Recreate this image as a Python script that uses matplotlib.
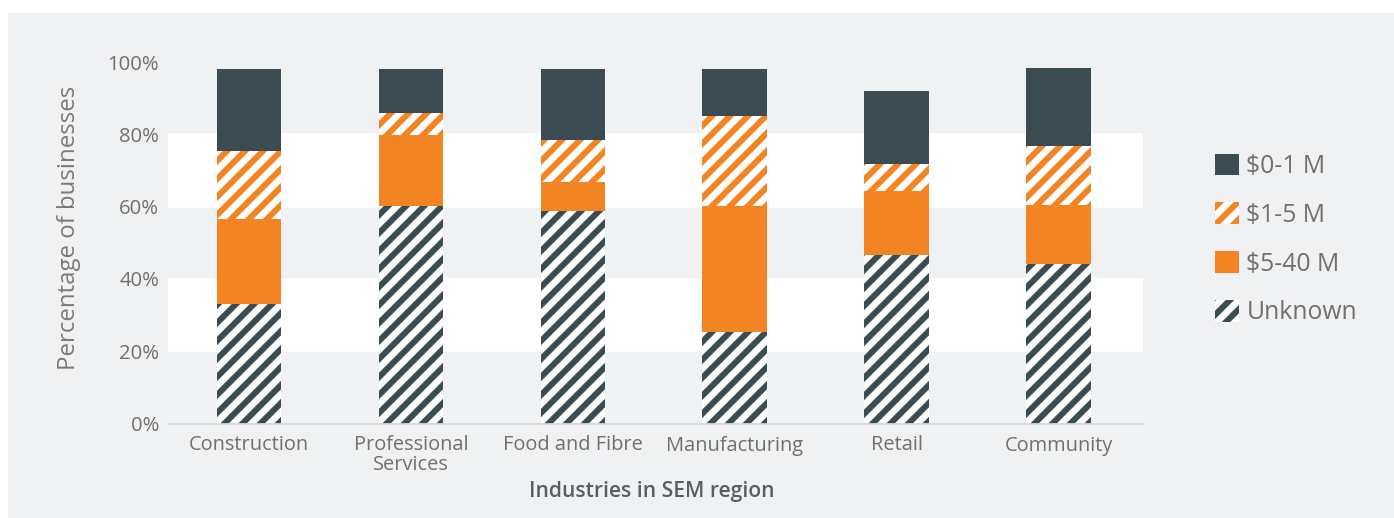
import matplotlib.pyplot as plt
from matplotlib.patches import Patch, Rectangle
import numpy as np

industries = ['Construction', 'Professional\nServices', 'Food and Fibre',
              'Manufacturing', 'Retail', 'Community']

# share of businesses (%) by turnover band, stacked bottom to top
unknown = [33.1, 60.2, 58.8, 25.3, 46.6, 44.0]
rev_5_40 = [23.5, 19.6, 7.9, 34.9, 17.8, 16.5]
rev_1_5 = [18.8, 6.0, 11.7, 24.9, 7.5, 16.3]
rev_0_1 = [22.6, 12.2, 19.6, 12.9, 20.1, 21.6]

yticks = [0, 20, 40, 60, 80, 100]

DARK = '#3c4a52'
ORANGE = '#f28423'
BG = '#f0f1f3'
TXT = '#707070'

plt.rcParams['font.family'] = ['Open Sans', 'DejaVu Sans']
plt.rcParams['hatch.linewidth'] = 4.0

dpi = 108
W, H = 1394, 518
fig = plt.figure(figsize=(W / dpi, H / dpi), dpi=dpi, facecolor='white')
fig.patches.append(Rectangle((8 / W, 0), 1, 505 / H, transform=fig.transFigure,
                             facecolor=BG, edgecolor='none', zorder=-10))

ax = fig.add_axes([168 / W, 1 - 423.5 / H, 975 / W, 361.5 / H])
ax.set_facecolor('none')

x = np.arange(len(industries))
w = 0.4

ax.axhspan(20, 40, color='white', zorder=0)
ax.axhspan(60, 80, color='white', zorder=0)

b1 = np.array(unknown)
b2 = b1 + np.array(rev_5_40)
b3 = b2 + np.array(rev_1_5)

ax.bar(x, unknown, w, facecolor='white', edgecolor=DARK, hatch='//', linewidth=0, zorder=2)
ax.bar(x, rev_5_40, w, bottom=b1, color=ORANGE, linewidth=0, zorder=2)
ax.bar(x, rev_1_5, w, bottom=b2, facecolor='white', edgecolor=ORANGE, hatch='//', linewidth=0, zorder=2)
ax.bar(x, rev_0_1, w, bottom=b3, color=DARK, linewidth=0, zorder=2)

ax.set_xlim(-0.5, 5.52)
ax.set_ylim(0, 100)
ax.set_yticks(yticks)
ax.set_yticklabels([f'{t}%' for t in yticks], fontsize=13.5)
ax.set_xticks(x)
ax.set_xticklabels(industries, linespacing=0.95, fontsize=13.3)
ax.tick_params(axis='both', length=0, labelcolor=TXT)
ax.tick_params(axis='y', pad=6)
ax.tick_params(axis='x', pad=8)

for s in ['top', 'right', 'left']:
    ax.spines[s].set_visible(False)
ax.spines['bottom'].set_color('#d6d7d9')
ax.spines['bottom'].set_linewidth(1.2)

ax.set_ylabel('Percentage of businesses', fontsize=16, color='#7a7a7a')
ax.yaxis.set_label_coords(-0.089, 0.54)
ax.set_xlabel('Industries in SEM region', fontsize=14, color='#5a5e62', fontweight='semibold')
ax.xaxis.set_label_coords(0.496, -0.16)

handles = [
    Patch(facecolor=DARK, edgecolor=DARK, linewidth=0, label='$0-1 M'),
    Patch(facecolor='white', edgecolor=ORANGE, hatch='//', linewidth=0, label='$1-5 M'),
    Patch(facecolor=ORANGE, edgecolor=ORANGE, linewidth=0, label='$5-40 M'),
    Patch(facecolor='white', edgecolor=DARK, hatch='//', linewidth=0, label='Unknown'),
]
leg = fig.legend(handles=handles, loc='center left', bbox_to_anchor=(1215 / W, 1 - 239.5 / H),
                 frameon=False, fontsize=16.5, handlelength=0.97, handleheight=0.97,
                 handletextpad=0.3, labelspacing=0.95, borderpad=0, borderaxespad=0)
for t in leg.get_texts():
    t.set_color(TXT)

fig.savefig('out.png', dpi=dpi, facecolor=fig.get_facecolor())
